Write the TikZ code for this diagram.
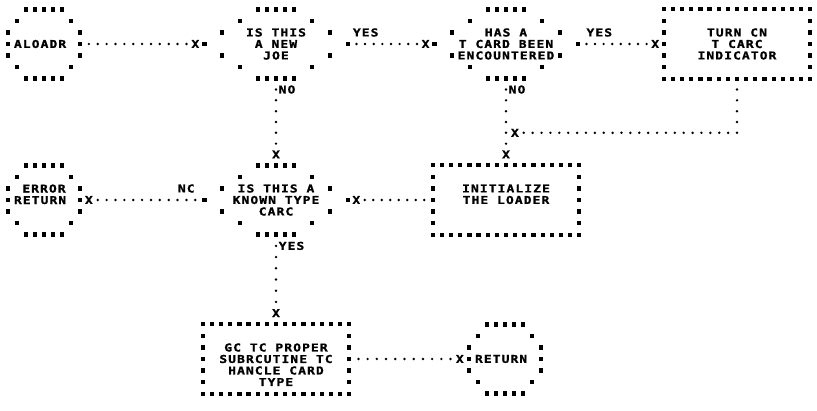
\documentclass[tikz,border=0pt]{standalone}
\usepackage{fontspec}
\newfontfamily\prt{DejaVu Sans Mono}[FakeStretch=1.2,LetterSpace=10,FakeBold=1.2]
\usetikzlibrary{calc}
\def\cw{8.95}
\def\rw{11.5}
\newcommand\starblob[1]{\fill #1 ++(-2.1,-2.1) rectangle ++(4.2,4.2);}
\newcommand\decoutline[1]{%
  \foreach \cc/\rr in {-2/-3,-1/-3,0/-3,1/-3,2/-3,-4/-2,4/-2,-6/-1,6/-1,-8/0,8/0,-6/1,6/1,-4/2,4/2,-2/3,-1/3,0/3,1/3,2/3}
    {\starblob{($(#1.center)+(\cc*\cw,\rr*\rw)$)}}}
\newcommand\termoutline[1]{%
  \foreach \cc/\rr in {-2/-3,-1/-3,0/-3,1/-3,2/-3,-3/-2,3/-2,-4/-1,4/-1,-4/0,4/0,-4/1,4/1,-3/2,3/2,-2/3,-1/3,0/3,1/3,2/3}
    {\starblob{($(#1.center)+(\cc*\cw,\rr*\rw)$)}}}
\newcommand\boxoutline[1]{%
  \foreach \ii in {0,...,16}{%
    \starblob{($(#1.north west)!\ii/16!(#1.north east)$)}
    \starblob{($(#1.south west)!\ii/16!(#1.south east)$)}}
  \foreach \rr in {-2,...,2}{%
    \starblob{($(#1.west)+(0,\rr*\rw)$)}
    \starblob{($(#1.east)+(0,\rr*\rw)$)}}}
% dots of a connector: from #1 to #2 cut in #3 steps, dots at the steps listed in #4
\newcommand\dotfr[4]{\foreach \ii in {#4}{\fill ($#1!\ii/#3!#2$) circle[radius=1.35];}}
\tikzset{
  prtfont/.style={font=\prt\bfseries\fontsize{10.8}{11.5}\selectfont},
  txtnode/.style={prtfont, inner sep=0pt, align=center, text=black},
  decnode/.style={txtnode, minimum width=143.2pt, minimum height=69pt},
  termnode/.style={txtnode, minimum width=71.6pt, minimum height=69pt},
  procnode/.style={txtnode, minimum width=146pt, minimum height=69pt},
  lbl/.style={prtfont, inner sep=0pt, text=black},
}
\begin{document}
\begin{tikzpicture}[x=1pt,y=-1pt]
\fill[white] (0,0) rectangle (817,411);
\useasboundingbox (0,0) rectangle (817,411);
% ---- shapes
\node[termnode] (aloadr) at (44,44) {ALOADR\phantom{X}};
\node[decnode] (dec1) at (276,44) {IS THIS\\A NEW\\JOE};
\node[decnode] (dec2) at (506,44) {HAS A\\T CARD BEEN\\ENCOUNTERED};
\node[procnode] (turnon) at (737,44) {TURN CN\\T CARC\\INDICATOR};
\node[termnode] (errret) at (44,200) {ERROR\\RETURN\phantom{X}\\\phantom{X}};
\node[decnode] (known) at (276,200) {IS THIS A\\KNOWN TYPE\\CARC};
\node[procnode] (init) at (506,200) {INITIALIZE\\THE LOADER\\\phantom{X}};
\node[procnode] (goto) at (276,359) {\phantom{X}\\GC TC PROPER\\SUBRCUTINE TC\\HANCLE CARD\\TYPE};
\node[termnode] (ret) at (505,359) {RETURN\phantom{X}};
\termoutline{aloadr}
\decoutline{dec1}
\decoutline{dec2}
\boxoutline{turnon}
\termoutline{errret}
\decoutline{known}
\boxoutline{init}
\boxoutline{goto}
\termoutline{ret}
% ---- connectors (X marks the arrow end)
% ALOADR -> IS THIS A NEW JOB
\dotfr{(aloadr.east)}{(dec1.west)}{14}{1,...,12}
\node[lbl] (x1) at ($(aloadr.east)!13/14!(dec1.west)$) {X};
% YES -> HAS A T CARD
\dotfr{(dec1.east)}{(dec2.west)}{10}{1,...,8}
\node[lbl] (x2) at ($(dec1.east)!9/10!(dec2.west)$) {X};
\node[lbl] (yes1) at ($(dec1.east)+(2*\cw,-\rw)$) {YES};
% YES -> TURN ON
\dotfr{(dec2.east)}{(turnon.west)}{10}{1,...,8}
\node[lbl] (x3) at ($(dec2.east)!9/10!(turnon.west)$) {X};
\node[lbl] (yes2) at ($(dec2.east)+(2.4*\cw,-\rw)$) {YES};
% NO -> known type
\dotfr{(dec1.south)}{(known.north)}{8}{1,...,6}
\node[lbl] (x4) at ($(dec1.south)!7/8!(known.north)$) {X};
\node[lbl, anchor=west] (no1) at ($(dec1.south)!1/8!(known.north)+(2.5,0)$) {NO};
% NO -> initialize
\dotfr{(dec2.south)}{(init.north)}{8}{1,...,6}
\node[lbl] (x5) at ($(dec2.south)!7/8!(init.north)$) {X};
\node[lbl, anchor=west] (no2) at ($(dec2.south)!1/8!(init.north)+(2.5,0)$) {NO};
% turn on -> join
\coordinate (join) at ($(dec2.south)!5/8!(init.north)$);
\coordinate (corner) at (turnon.south |- join);
\dotfr{(turnon.south)}{(corner)}{5}{1,...,5}
\dotfr{(corner)}{(join)}{26}{1,...,24}
\node[lbl] (x6) at ($(corner)!25/26!(join)$) {X};
% initialize -> known type
\dotfr{(known.east)}{(init.west)}{10}{2,...,9}
\node[lbl] (x7) at ($(known.east)!1/10!(init.west)$) {X};
% known type NO -> error return
\dotfr{(errret.east)}{(known.west)}{14}{2,...,13}
\node[lbl] (x8) at ($(errret.east)!1/14!(known.west)$) {X};
\node[lbl] (nc) at ($(known.west)+(-2*\cw,-\rw)$) {NC};
% known type YES -> go to
\dotfr{(known.south)}{(goto.north)}{8}{1,...,6}
\node[lbl] (x9) at ($(known.south)!7/8!(goto.north)$) {X};
\node[lbl, anchor=west] (yes3) at ($(known.south)!1/8!(goto.north)+(2.5,0)$) {YES};
% go to -> return
\dotfr{(goto.east)}{(ret.west)}{13}{1,...,11}
\node[lbl] (x10) at ($(goto.east)!12/13!(ret.west)$) {X};
\end{tikzpicture}
\end{document}
